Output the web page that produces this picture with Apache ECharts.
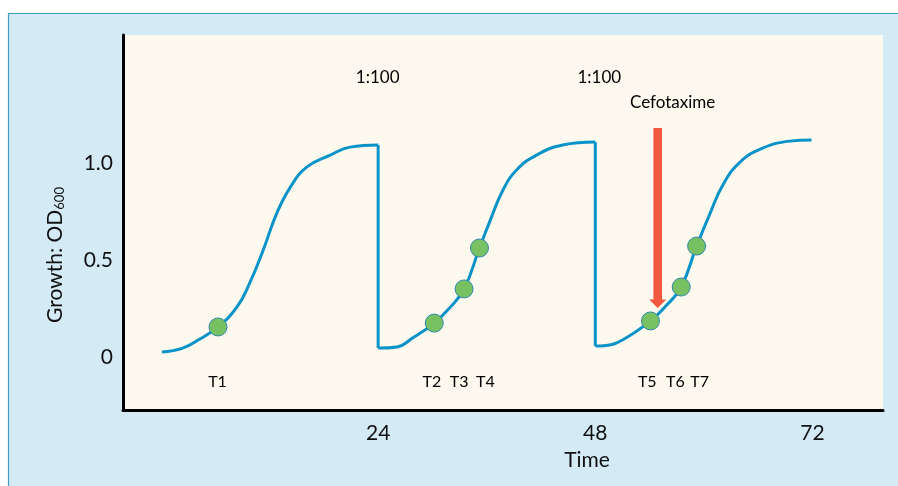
<!DOCTYPE html>
<html><head><meta charset="utf-8">
<script src="https://cdn.jsdelivr.net/npm/echarts@6/dist/echarts.min.js"></script>
<style>html,body{margin:0;padding:0;background:#fff}#c{width:898px;height:486px}</style>
</head><body><div id="c"></div>
<script>
// Growth curves (time in h, OD600)
const cycle1Time = [0.1, 2.4, 4.3, 6.3, 8.4, 9.8, 11.3, 12.8, 14.3, 16.1, 18.7, 20.9, 24.0];
const cycle1OD   = [0.026, 0.046, 0.093, 0.155, 0.258, 0.381, 0.552, 0.742, 0.876, 0.979, 1.041, 1.082, 1.093];
const cycle2Time = [24.0, 26.1, 27.8, 30.2, 31.9, 33.5, 35.2, 36.4, 37.8, 39.3, 41.5, 44.4, 48.0];
const cycle2OD   = [0.046, 0.052, 0.098, 0.175, 0.253, 0.351, 0.562, 0.706, 0.861, 0.964, 1.041, 1.093, 1.108];
const cycle3Time = [48.0, 49.2, 51.0, 54.1, 55.9, 57.5, 59.2, 60.7, 62.1, 64.0, 66.5, 69.5, 71.9];
const cycle3OD   = [0.057, 0.060, 0.088, 0.186, 0.268, 0.361, 0.572, 0.742, 0.887, 1.005, 1.077, 1.113, 1.119];

// Sampling points
const sampleTime = [6.3, 30.2, 33.5, 35.2, 54.1, 57.5, 59.2];
const sampleOD   = [0.155, 0.175, 0.351, 0.562, 0.186, 0.361, 0.572];
const sampleNames = ['T1', 'T2', 'T3', 'T4', 'T5', 'T6', 'T7'];
const sampleLabelTime = [6.3, 30.0, 33.0, 35.9, 53.8, 56.9, 59.6];
const sampleLabelOD = -0.129;

// Annotations
const noteNames = ['1:100', '1:100', 'Cefotaxime'];
const noteTime  = [24.0, 48.5, 56.6];
const noteOD    = [1.438, 1.438, 1.309];

// Antibiotic arrow
const arrowTime = 54.9, arrowFromOD = 1.18, arrowToOD = 0.253;

// Axis ticks
const xTicks = [24, 48, 72];
const yTicks = [0, 0.5, 1.0];
const yTickLabels = ['0', '0.5', '1.0'];

const FONT = 'Lato';
const TXT = '#000000';
const zip = (a, b) => a.map((v, i) => [v, b[i]]);
const c1 = zip(cycle1Time, cycle1OD), c2 = zip(cycle2Time, cycle2OD), c3 = zip(cycle3Time, cycle3OD);

const curveStyle = { color: '#0a93c8', width: 3 };
const curve = (data) => ({
  type: 'line', data, smooth: 0.45, showSymbol: false, symbol: 'none',
  lineStyle: curveStyle, silent: true, z: 2
});
const textLayer = (data, size) => ({
  type: 'scatter', silent: true, z: 5, symbolSize: 1,
  itemStyle: { color: 'rgba(0,0,0,0)', opacity: 1 },
  data,
  label: { show: true, position: [0, 0], align: 'center', verticalAlign: 'middle', formatter: '{b}',
    fontSize: size, fontFamily: FONT, color: TXT, opacity: 1, textBorderWidth: 0 }
});

const chart = echarts.init(document.getElementById('c'));
chart.setOption({
  backgroundColor: '#ffffff',
  animation: false,
  graphic: [
    { type: 'rect', z: -100, silent: true, shape: { x: 8.5, y: 13.5, width: 1000, height: 1000 },
      style: { fill: '#d4eaf5', stroke: '#3f9dc4', lineWidth: 1.2 } },
    { type: 'text', x: 55, y: 255, rotation: Math.PI / 2, silent: true,
      style: { text: '{m|Growth: OD}{s|600}', align: 'center', verticalAlign: 'middle',
        rich: { m: { fontSize: 21, fontFamily: FONT, fill: '#111' },
                s: { fontSize: 13, fontFamily: FONT, fill: '#111', padding: [10, 0, 0, 0] } } } },
    { type: 'text', x: 587, y: 460, silent: true,
      style: { text: 'Time', fontSize: 21, fontFamily: FONT, fill: '#111', align: 'center', verticalAlign: 'middle' } }
  ],
  grid: { left: 123, right: 15, top: 35, bottom: 76, show: true, backgroundColor: '#fdf9ee', borderWidth: 0 },
  xAxis: {
    type: 'value', min: -4.2, max: 79.8,
    splitLine: { show: false }, axisTick: { show: false },
    axisLine: { onZero: false, lineStyle: { color: '#000', width: 3 } },
    axisLabel: { customValues: xTicks, fontSize: 21, fontFamily: FONT, color: '#111', margin: 13 }
  },
  yAxis: {
    type: 'value', min: -0.273, max: 1.66,
    splitLine: { show: false }, axisTick: { show: false },
    axisLine: { onZero: false, lineStyle: { color: '#000', width: 3 } },
    axisLabel: { customValues: yTicks, fontSize: 21, fontFamily: FONT, color: '#111', margin: 10,
      formatter: (v) => yTickLabels[yTicks.indexOf(v)] ?? '' }
  },
  series: [
    curve(c1), curve(c2), curve(c3),
    { type: 'line', data: [c1[c1.length - 1], c2[0]], showSymbol: false, symbol: 'none', lineStyle: curveStyle, silent: true, z: 2 },
    { type: 'line', data: [c2[c2.length - 1], c3[0]], showSymbol: false, symbol: 'none', lineStyle: curveStyle, silent: true, z: 2 },
    {
      type: 'custom', silent: true, z: 3,
      data: [[arrowTime, arrowFromOD, arrowToOD]],
      encode: { x: 0, y: [1, 2] },
      renderItem: (params, api) => {
        const top = api.coord([api.value(0), api.value(1)]);
        const tip = api.coord([api.value(0), api.value(2)]);
        const sw = 4.3, hw = 8.5, hh = 8.5, x = top[0];
        return { type: 'polygon', shape: { points: [
          [x - sw, top[1]], [x + sw, top[1]], [x + sw, tip[1] - hh], [x + hw, tip[1] - hh],
          [x, tip[1]], [x - hw, tip[1] - hh], [x - sw, tip[1] - hh]] },
          style: { fill: '#f2573f' } };
      }
    },
    {
      type: 'scatter', silent: true, z: 4, data: zip(sampleTime, sampleOD), symbolSize: 18,
      itemStyle: { color: '#77c163', borderColor: '#2f88ad', borderWidth: 1, opacity: 1 }
    },
    textLayer(sampleNames.map((n, i) => ({ name: n, value: [sampleLabelTime[i], sampleLabelOD] })), 16),
    textLayer(noteNames.map((n, i) => ({ name: n, value: [noteTime[i], noteOD[i]] })), 17)
  ]
});
</script></body></html>
